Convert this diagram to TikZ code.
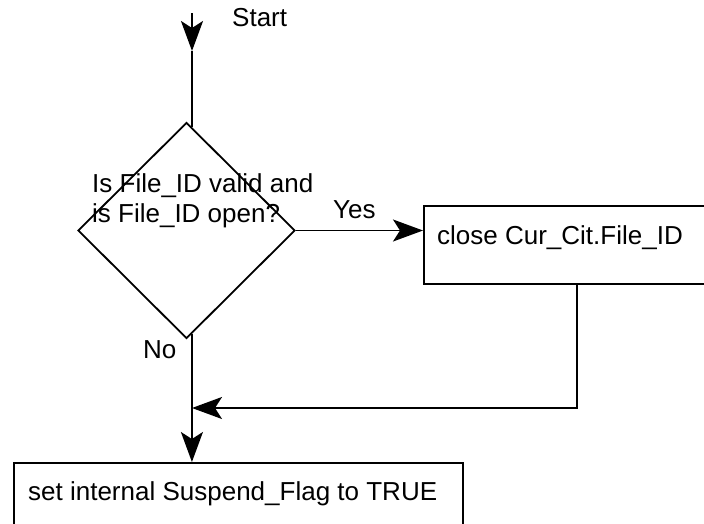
\documentclass[tikz,border=0pt]{standalone}
\usepackage{fontspec}
\setmainfont{Liberation Sans}
\usetikzlibrary{shapes.geometric,arrows.meta}
\tikzset{
  flow/.style={line width=1.8pt, black},
  arr/.style={flow, -{Stealth[length=30pt,width=22pt,inset=7pt]}},
  procbox/.style={draw, line width=1.8pt, rectangle, inner sep=0pt},
  decision/.style={draw, line width=1.8pt, diamond, inner sep=0pt, minimum width=217pt, minimum height=216pt},
  lbl/.style={font=\fontsize{26}{30}\selectfont, inner sep=0pt, anchor=base west}
}
\begin{document}
\begin{tikzpicture}[x=1pt,y=-1pt]
\clip (0,0) rectangle (704,523);
\fill[white] (0,0) rectangle (704,523);
% nodes
\node[decision] (d) at (186.5,230.5) {};
\node[procbox, minimum width=320pt, minimum height=78pt, anchor=north west] (b1) at (423,205) {};
\node[procbox, minimum width=449pt, minimum height=90pt, anchor=north west] (b2) at (13,462) {};
% texts
\node[lbl] (tstart) at (232,26) {Start};
\node[lbl] (tq1) at (92,192) {Is File\_ID valid and};
\node[lbl] (tq2) at (92,222) {is File\_ID open?};
\node[lbl] (tyes) at (333,218) {Yes};
\node[lbl] (tno) at (143,358) {No};
\node[lbl] (tb1) at (437,244) {close Cur\_Cit.File\_ID};
\node[lbl] (tb2) at (28,500) {set internal Suspend\_Flag to TRUE};
% connectors
\coordinate (s0) at (192,13);
\coordinate (s1) at (192,51);
\coordinate (rc) at (577,408);
\coordinate (m) at (192,408);
\draw[arr] (s0) -- (s1);
\draw[flow] (s1) -- (d.87);
\draw[arr] (d.east) -- (d.east -| b1.west);
\draw[arr] (d.-87) -- (d.-87 |- b2.north);
\draw[arr] (b1.south -| rc) -- (rc) -- (m);
\end{tikzpicture}
\end{document}
